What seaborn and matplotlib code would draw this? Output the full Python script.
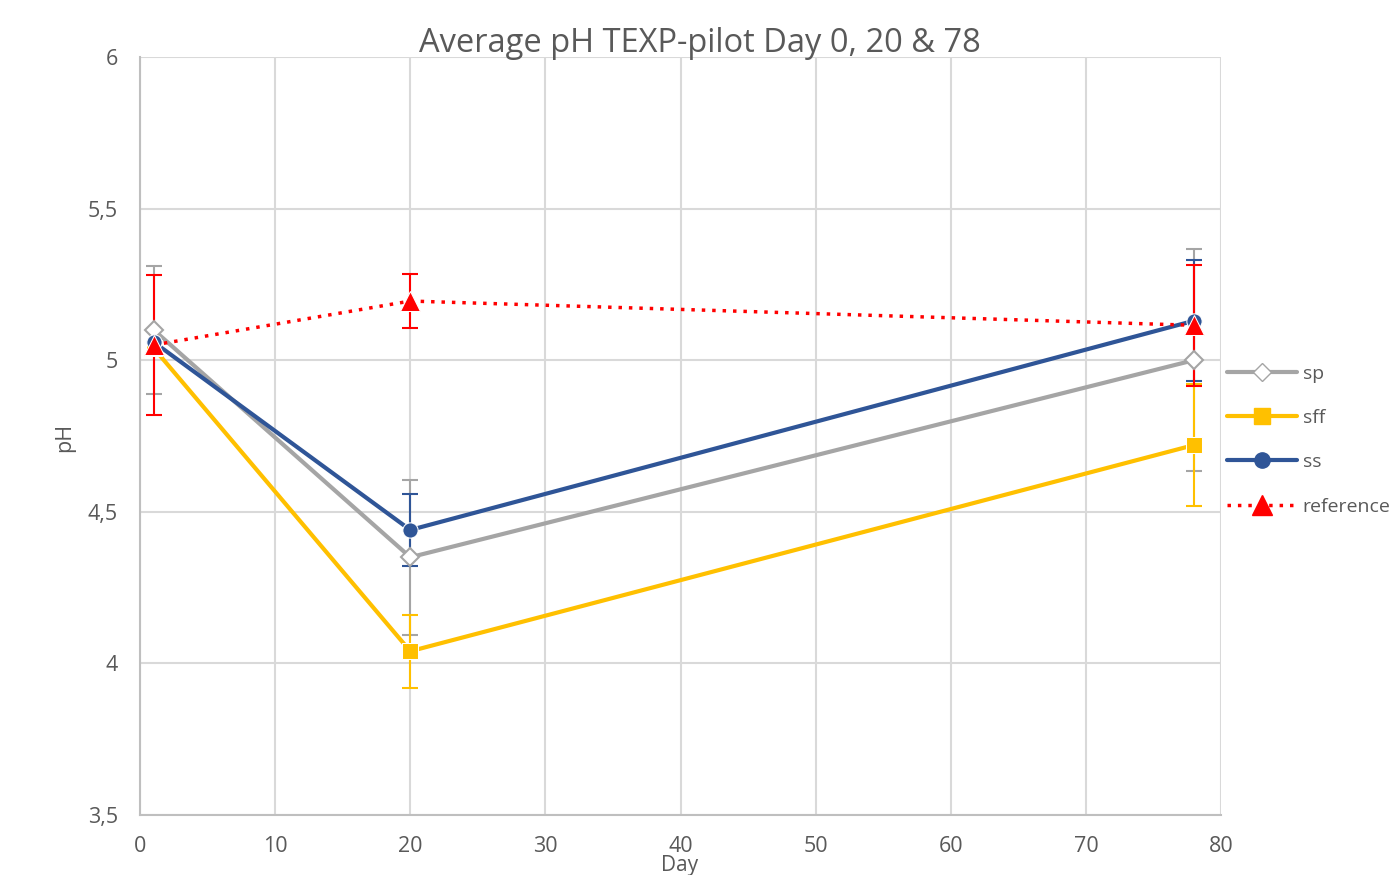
import numpy as np
import pandas as pd
import matplotlib
matplotlib.use("Agg")
import matplotlib.pyplot as plt
from matplotlib.lines import Line2D
import seaborn as sns

# data
days = [1, 20, 78]
sp = [5.10, 4.35, 5.00]
sp_err = [0.21, 0.255, 0.365]
sff = [5.04, 4.04, 4.72]
sff_err = [0.0, 0.12, 0.20]
ss = [5.06, 4.44, 5.13]
ss_err = [0.0, 0.12, 0.20]
reference = [5.05, 5.195, 5.115]
reference_err = [0.23, 0.09, 0.20]

series = ["sp", "sff", "ss", "reference"]
values = {"sp": sp, "sff": sff, "ss": ss, "reference": reference}
errors = {"sp": sp_err, "sff": sff_err, "ss": ss_err, "reference": reference_err}
colors = {"sp": "#a5a5a5", "sff": "#ffc000", "ss": "#2f5597", "reference": "#ff0000"}
markers = {"sp": "D", "sff": "s", "ss": "o", "reference": "^"}

df = pd.DataFrame({
    "Day": days * 4,
    "pH": sp + sff + ss + reference,
    "series": [s for s in series for _ in days],
})

sns.set_style("white")
plt.rcParams["font.family"] = ["Open Sans", "DejaVu Sans"]
txt = "#595959"

fig = plt.figure(figsize=(13.95, 8.75), dpi=100)
ax = fig.add_axes([0.1004, 0.0686, 0.7749, 0.8663])

# error bars first, under the lines
for s in series:
    ax.errorbar(days, values[s], yerr=errors[s], fmt="none", ecolor=colors[s],
                elinewidth=1.5, capsize=6, capthick=1.5, zorder=2)

sns.lineplot(data=df, x="Day", y="pH", hue="series", style="series",
             palette=colors, markers=markers,
             dashes={"sp": "", "sff": "", "ss": "", "reference": (1, 2)},
             linewidth=3, markersize=11, ax=ax, legend=False, zorder=3)

# sp: hollow diamond, reference: dotted with big triangle
for line in ax.get_lines():
    c = matplotlib.colors.to_hex(line.get_color())
    if c == colors["sp"]:
        line.set_markerfacecolor("white")
        line.set_markeredgecolor(colors["sp"])
        line.set_markersize(9)
        line.set_markeredgewidth(1.5)
    elif c == colors["reference"]:
        line.set_linewidth(2.5)
        line.set_markersize(14)

ax.set_xlim(0, 80)
ax.set_ylim(3.5, 6)
ax.set_xticks(range(0, 81, 10))
ax.set_yticks([3.5, 4, 4.5, 5, 5.5, 6])
ax.set_yticklabels(["3,5", "4", "4,5", "5", "5,5", "6"])
ax.grid(True, color="#d9d9d9", linewidth=1.5)
for side in ["top", "right"]:
    ax.spines[side].set_visible(False)
for side in ["left", "bottom"]:
    ax.spines[side].set_color("#bfbfbf")
    ax.spines[side].set_linewidth(1.5)
ax.tick_params(colors=txt, labelsize=15.5, length=0)
ax.tick_params(axis="x", pad=15)
ax.tick_params(axis="y", pad=16)

ax.set_xlabel("")
ax.set_ylabel("")
fig.text(680 / 1395, 1 - 866 / 875, "Day", ha="center", va="center", fontsize=15, color=txt)
fig.text(65 / 1395, 1 - 437 / 875, "pH", ha="center", va="center", fontsize=15.5,
         color=txt, rotation=90)
fig.text(700 / 1395, 1 - 43 / 875, "Average pH TEXP-pilot Day 0, 20 & 78", ha="center",
         va="center", fontsize=23.5, color=txt)

# legend outside to the right
handles = []
for s in series:
    if s == "sp":
        h = Line2D([], [], color=colors[s], lw=3, marker="D", markersize=9,
                   markerfacecolor="white", markeredgecolor=colors[s])
    elif s == "reference":
        h = Line2D([], [], color=colors[s], lw=2.5, ls=(0, (1, 2)), marker="^",
                   markersize=14)
    else:
        h = Line2D([], [], color=colors[s], lw=3, marker=markers[s], markersize=11)
    handles.append(h)
fig.legend(handles, series, loc="center left", bbox_to_anchor=(0.874, 0.497),
           frameon=False, fontsize=14, labelcolor=txt, handlelength=3.6,
           labelspacing=1.35, handletextpad=0.3, borderaxespad=0)

plt.savefig("out.png", dpi=100)
